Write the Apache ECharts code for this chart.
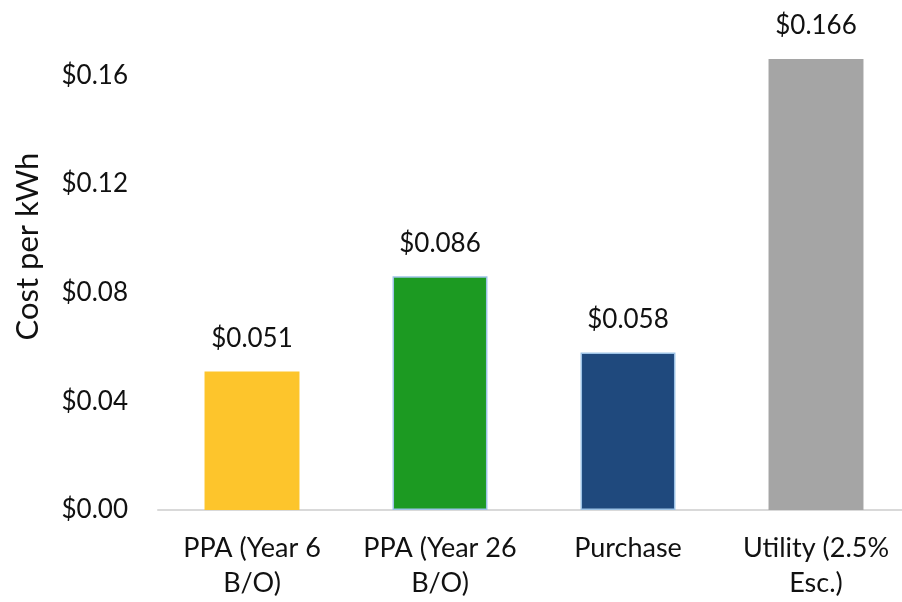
<!DOCTYPE html>
<html>
<head>
    <meta charset="utf-8" />
    <script src="https://cdn.jsdelivr.net/npm/echarts@6/dist/echarts.min.js"></script>
    <title>cost_per_kwh</title>
    <style>
        html, body { margin: 0; padding: 0; background: #fff; }
    </style>
</head>
<body>
<div id="main" style="width:902px; height:602px;"></div>
<script type="text/javascript">
    // chart data
    const categories = ['PPA (Year 6\nB/O)', 'PPA (Year 26\nB/O)', 'Purchase', 'Utility (2.5%\nEsc.)'];
    const costs = [0.051, 0.086, 0.058, 0.166];
    const barColors = ['#FDC52C', '#1C9A22', '#1F497D', '#A5A5A5'];
    const barBorders = ['#FDC52C', '#9DC3E6', '#9DC3E6', '#A5A5A5'];

    const font = 'Lato, "Open Sans", sans-serif';
    let myChart = echarts.init(document.getElementById('main'));

    let option = {
        animation: false,
        grid: {
            left: 158,
            width: 752,
            top: 21,
            bottom: 92,
            outerBoundsMode: 'none'
        },
        xAxis: {
            type: 'category',
            data: categories,
            axisTick: { show: false },
            axisLine: { lineStyle: { color: '#D9D9D9', width: 2 } },
            axisLabel: {
                color: '#111',
                fontFamily: font,
                fontSize: 27,
                lineHeight: 35,
                margin: 21,
                interval: 0
            }
        },
        yAxis: {
            type: 'value',
            min: 0,
            max: 0.18,
            interval: 0.04,
            name: 'Cost per kWh',
            nameLocation: 'middle',
            nameGap: 115,
            nameTextStyle: {
                color: '#111',
                fontFamily: font,
                fontSize: 31,
                padding: [0, 0, 0, 38]
            },
            splitLine: { show: false },
            axisLine: { show: false },
            axisTick: { show: false },
            axisLabel: {
                color: '#111',
                fontFamily: font,
                fontSize: 26,
                margin: 30,
                showMaxLabel: false,
                formatter: function (v) {
                    return '$' + v.toFixed(2);
                }
            }
        },
        series: [{
            type: 'bar',
            barWidth: '50.5%',
            data: costs.map(function (v, i) {
                return {
                    value: v,
                    itemStyle: {
                        color: barColors[i],
                        borderColor: barBorders[i],
                        borderWidth: 1.5
                    }
                };
            }),
            label: {
                show: true,
                position: 'top',
                distance: 20,
                color: '#111',
                fontFamily: font,
                fontSize: 26,
                formatter: function (p) {
                    return '$' + p.value.toFixed(3);
                }
            }
        }]
    };
    myChart.setOption(option);
</script>
</body>
</html>
